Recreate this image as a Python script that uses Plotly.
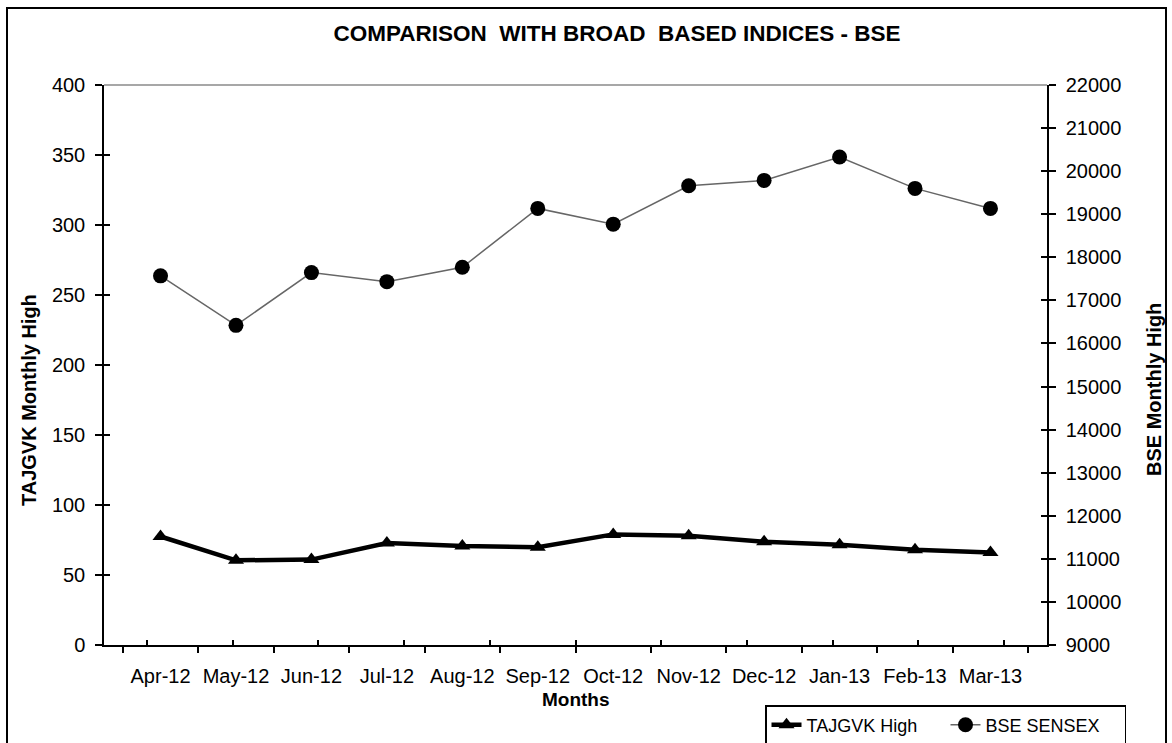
import plotly.graph_objects as go

months = ["Apr-12", "May-12", "Jun-12", "Jul-12", "Aug-12", "Sep-12",
          "Oct-12", "Nov-12", "Dec-12", "Jan-13", "Feb-13", "Mar-13"]
tajgvk_high = [77.5, 60.5, 61.0, 72.8, 70.7, 69.8, 79.0, 78.0, 73.8, 71.6, 68.1, 66.0]
bse_sensex = [17570, 16420, 17645, 17435, 17770, 19135, 18770, 19660, 19785, 20330, 19600, 19135]

left_ticks = list(range(0, 401, 50))
right_ticks = list(range(9000, 22001, 1000))

FONT = "Liberation Sans, Arial, sans-serif"

# plot-area pixel frame used for placing paper-relative items
L, R, T, B = 104, 1047, 85, 645
PW, PH = R - L, B - T


def px(x):
    return (x - L) / PW


def py(y):
    return (B - y) / PH


fig = go.Figure()

fig.add_trace(go.Scatter(
    x=months, y=tajgvk_high, name="TAJGVK High", mode="lines+markers",
    line=dict(color="black", width=4.5),
    marker=dict(symbol="triangle-up", size=14, color="black"),
    xaxis="x", yaxis="y"))

fig.add_trace(go.Scatter(
    x=months, y=bse_sensex, name="BSE SENSEX", mode="lines+markers",
    line=dict(color="#666666", width=1.5),
    marker=dict(symbol="circle", size=15, color="black"),
    xaxis="x", yaxis="y2"))

# invisible helper traces so the inner-tick overlay axes get drawn
fig.add_trace(go.Scatter(x=months, y=tajgvk_high, mode="lines", opacity=0,
                         showlegend=False, hoverinfo="skip",
                         xaxis="x2", yaxis="y3"))
fig.add_trace(go.Scatter(x=months, y=bse_sensex, mode="lines", opacity=0,
                         showlegend=False, hoverinfo="skip",
                         xaxis="x", yaxis="y4"))

tickfont = dict(family=FONT, size=20, color="black")

fig.update_layout(
    width=1172, height=743,
    paper_bgcolor="white", plot_bgcolor="white",
    margin=dict(l=L, r=1172 - R, t=T, b=743 - B, autoexpand=False),
    showlegend=True,
    title=dict(text="COMPARISON\u00a0 WITH BROAD\u00a0 BASED INDICES - BSE",
               x=617 / 1172, xref="container", xanchor="center",
               y=1 - 33 / 743, yref="container", yanchor="middle",
               font=dict(family=FONT, size=22.5, color="black", weight="bold")),
    xaxis=dict(type="category", categoryarray=months, categoryorder="array",
               tickson="boundaries", ticks="outside", ticklen=6, tickwidth=1.5,
               tickcolor="black", showline=True, linecolor="black", linewidth=1.5,
               showgrid=False, zeroline=False, tickfont=tickfont, tickangle=0,
               ticklabelstandoff=12, automargin=False),
    xaxis2=dict(type="category", categoryarray=months, categoryorder="array",
                overlaying="x", side="bottom", anchor="y",
                tickson="boundaries", ticks="inside", ticklen=5, tickwidth=1.5,
                tickcolor="black", showline=False, showgrid=False, zeroline=False,
                showticklabels=False),
    yaxis=dict(range=[0, 400], tickvals=left_ticks, ticks="outside", ticklen=7,
               tickwidth=1.5, tickcolor="black", showline=True, linecolor="black",
               linewidth=1.5, showgrid=False, zeroline=False, tickfont=tickfont,
               ticklabelstandoff=6, automargin=False),
    yaxis2=dict(range=[9000, 22000], tickvals=right_ticks, tickformat="d",
                overlaying="y", side="right",
                anchor="x", ticks="outside", ticklen=7, tickwidth=1.5, tickcolor="black",
                showline=True, linecolor="black", linewidth=1.5, showgrid=False,
                zeroline=False, tickfont=tickfont, ticklabelstandoff=6, automargin=False),
    yaxis3=dict(range=[0, 400], tickvals=left_ticks, overlaying="y", side="left",
                anchor="x", ticks="inside", ticklen=6, tickwidth=1.5, tickcolor="black",
                showline=False, showgrid=False, zeroline=False, showticklabels=False),
    yaxis4=dict(range=[9000, 22000], tickvals=right_ticks, overlaying="y", side="right",
                anchor="x", ticks="inside", ticklen=6, tickwidth=1.5, tickcolor="black",
                showline=False, showgrid=False, zeroline=False, showticklabels=False),
    legend=dict(orientation="h", x=px(765), xanchor="left",
                y=py(705), yanchor="top",
                bordercolor="black", borderwidth=1.5, bgcolor="white",
                font=dict(family=FONT, size=18, color="black"),
                entrywidth=134, entrywidthmode="pixels", tracegroupgap=0),
    shapes=[
        dict(type="line", xref="paper", yref="paper", x0=0, x1=1, y0=1, y1=1,
             line=dict(color="#8a8a8a", width=1.5)),
        dict(type="rect", xref="paper", yref="paper",
             x0=px(7), x1=px(1166), y0=py(760), y1=py(8),
             line=dict(color="black", width=2), layer="below"),
    ],
    annotations=[
        dict(text="<b>TAJGVK Monthly High</b>", textangle=-90,
             xref="paper", yref="paper", x=px(29), y=py(400),
             xanchor="center", yanchor="middle", showarrow=False,
             font=dict(family=FONT, size=20, color="black")),
        dict(text="<b>BSE Monthly High</b>", textangle=-90,
             xref="paper", yref="paper", x=px(1154), y=py(390),
             xanchor="center", yanchor="middle", showarrow=False,
             font=dict(family=FONT, size=20, color="black")),
        dict(text="<b>Months</b>", xref="paper", yref="paper",
             x=0.5, y=py(699), xanchor="center", yanchor="middle",
             showarrow=False, font=dict(family=FONT, size=19, color="black")),
    ],
)

fig.write_html("out.html", config={"displayModeBar": False},
               post_script="document.body.style.margin='0';")
